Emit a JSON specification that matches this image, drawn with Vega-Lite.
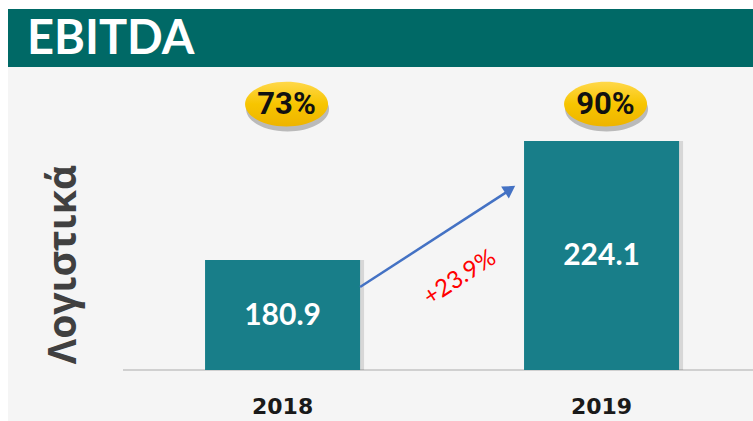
{
  "$schema": "https://vega.github.io/schema/vega-lite/v6.json",
  "background": "#ffffff",
  "padding": {"top": 9, "left": 8, "right": 0, "bottom": 0},
  "config": {"view": {"stroke": null, "fill": "#f5f5f5"}},
  "spacing": 0,
  "bounds": "flush",
  "vconcat": [
    {
      "width": 745,
      "height": 58,
      "view": {"fill": "#006966", "stroke": null},
      "data": {"values": [{"t": "EBITDA"}]},
      "mark": {"type": "text", "align": "left", "baseline": "middle", "font": "Lato", "fontSize": 47, "fontWeight": "bold", "color": "#ffffff"},
      "encoding": {"text": {"field": "t"}, "x": {"value": 19}, "y": {"value": 31}}
    },
    {
      "spacing": 0,
      "bounds": "flush",
      "hconcat": [
        {
          "width": 115,
          "height": 354,
          "view": {"fill": "#f5f5f5", "stroke": null},
          "data": {"values": [{}]},
          "mark": {"type": "text", "text": ""},
          "encoding": {}
        },
        {
          "width": 630,
          "height": 354,
          "view": {"fill": "#f5f5f5", "stroke": null},
          "data": {"values": [
            {"year": "2018", "value": 180.9, "pct": "73%"},
            {"year": "2019", "value": 224.1, "pct": "90%"}
          ]},
          "encoding": {
            "x": {"field": "year", "type": "nominal",
              "scale": {"paddingInner": 0.514, "paddingOuter": 0.2445, "align": 0.526},
              "axis": {"orient": "bottom", "offset": -28, "domain": false, "ticks": false, "labelAngle": 0, "labelFont": "DejaVu Sans", "labelFontSize": 22, "labelFontWeight": "bold", "labelColor": "#1a1a1a", "labelPadding": 3, "title": null}}
          },
          "layer": [
            {
              "mark": {"type": "rule", "color": "#d0d0d0", "strokeWidth": 2},
              "encoding": {"x": null, "y": {"datum": 141, "type": "quantitative", "scale": {"domain": [122.46, 250.96], "zero": false, "nice": false},
                "axis": {"title": "Λογιστικά", "labels": false, "ticks": false, "domain": false, "grid": false, "titlePadding": 40, "titleFontSize": 39, "titleFont": "Open Sans", "titleFontWeight": "bold", "titleColor": "#404040", "titleY": 197}}}
            },
            {
              "mark": {"type": "bar", "color": "#000000", "opacity": 0.12, "xOffset": 4},
              "encoding": {"y": {"field": "value", "type": "quantitative"}, "y2": {"datum": 141}}
            },
            {
              "mark": {"type": "bar", "color": "#187E89"},
              "encoding": {"y": {"field": "value", "type": "quantitative"}, "y2": {"datum": 141}}
            },
            {
              "transform": [{"calculate": "(datum.value + 141) / 2", "as": "labelY"}],
              "mark": {"type": "text", "color": "#ffffff", "font": "Lato", "fontSize": 30, "fontWeight": "bold", "baseline": "middle", "dy": 1},
              "encoding": {"y": {"field": "labelY", "type": "quantitative"}, "text": {"field": "value", "type": "quantitative", "format": ".1f"}}
            },
            {
              "mark": {"type": "point", "shape": "M-1,0A1,0.54,0,1,1,1,0A1,0.54,0,1,1,-1,0Z", "size": 6889, "filled": true, "color": "#333333", "opacity": 0.3, "xOffset": 5, "yOffset": 5, "strokeWidth": 0},
              "encoding": {"y": {"datum": 237.5}}
            },
            {
              "mark": {"type": "point", "shape": "M-1,0A1,0.54,0,1,1,1,0A1,0.54,0,1,1,-1,0Z", "size": 6889, "filled": true, "opacity": 1, "xOffset": 4, "strokeWidth": 0,
                "fill": {"gradient": "linear", "x1": 0, "y1": 0, "x2": 0, "y2": 1, "stops": [{"offset": 0, "color": "#ffd84a"}, {"offset": 0.5, "color": "#f7c500"}, {"offset": 1, "color": "#eeb400"}]}},
              "encoding": {"y": {"datum": 237.5}}
            },
            {
              "mark": {"type": "text", "font": "Roboto", "fontSize": 31, "fontWeight": "bold", "color": "#111111", "baseline": "middle", "xOffset": 4, "dy": 1},
              "encoding": {"y": {"datum": 237.5}, "text": {"field": "pct"}}
            },
            {
              "data": {"values": [{"label": "+23.9%"}]},
              "mark": {"type": "rule", "color": "#4472C4", "strokeWidth": 2.5},
              "encoding": {
                "x": {"datum": "2018", "bandPosition": 1},
                "x2": {"datum": "2019", "bandPosition": -0.103},
                "y": {"datum": 171.1},
                "y2": {"datum": 205.9}
              }
            },
            {
              "data": {"values": [{"label": "+23.9%"}]},
              "mark": {"type": "point", "shape": "triangle-up", "filled": true, "color": "#4472C4", "size": 200, "angle": 57, "opacity": 1},
              "encoding": {
                "x": {"datum": "2019", "bandPosition": -0.09},
                "y": {"datum": 206.6}
              }
            },
            {
              "data": {"values": [{"label": "+23.9%"}]},
              "mark": {"type": "text", "font": "Lato", "fontSize": 24, "color": "#ff0000", "angle": -33, "baseline": "middle", "align": "center"},
              "encoding": {
                "x": {"datum": "2018", "bandPosition": 1.645},
                "y": {"datum": 174.4},
                "text": {"field": "label"}
              }
            }
          ]
        }
      ]
    }
  ]
}
